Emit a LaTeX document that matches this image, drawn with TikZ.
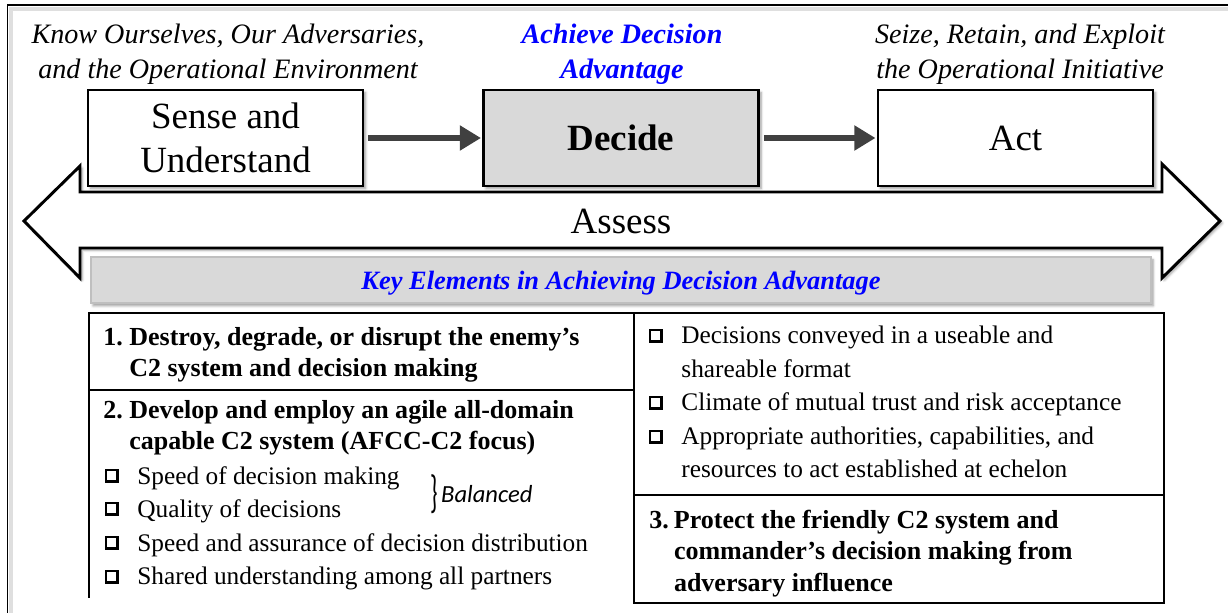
\documentclass[tikz,border=0pt]{standalone}
\usepackage{fontspec}
\usepackage{graphicx}
\setmainfont{Liberation Serif}
\newfontfamily\calfont{Carlito}
\usetikzlibrary{arrows.meta,positioning,shadows.blur}

\newcommand{\pxu}{0.025cm}
\newcommand{\chk}{\hspace*{1.23em}}
\newcommand{\hang}{\hspace*{1em}}
\newcommand{\sizedtext}[3]{\scalebox{#1}{\begin{tabular}{@{}#2@{}}#3\end{tabular}}}

\tikzset{
  stagebox/.style={draw, line width=1.6pt, fill=white, minimum width=275*\pxu,
    minimum height=96*\pxu, align=center, font=\fontsize{26.3}{31.3}\selectfont,
    blur shadow={shadow xshift=1.8pt, shadow yshift=-1.8pt, shadow blur steps=6}},
  flow/.style={line width=4.3pt, draw=black!75, -{Triangle[length=15pt, width=17pt]}},
  toptext/.style={align=center, font=\itshape\fontsize{18}{22.5}\selectfont},
  numtext/.style={anchor=north west, align=left, inner sep=0pt,
    font=\bfseries\fontsize{18.5}{22.3}\selectfont},
  listtext/.style={anchor=north west, align=left, inner sep=0pt,
    font=\fontsize{18}{23.8}\selectfont},
  tickbox/.style={draw, line width=0.9pt, fill=white, minimum size=12*\pxu, inner sep=0pt,
    path picture={\draw[line width=2.6pt] (path picture bounding box.north east)
      -- (path picture bounding box.south east) -- (path picture bounding box.south west);}},
}

\begin{document}
\begin{tikzpicture}[x=0.025cm, y=-0.025cm, line join=miter]
\useasboundingbox (0,0) rectangle (1228,612);
% frame
\draw[gray!25, line width=2.5pt] (11,640) -- (11,9) -- (1250,9);
\draw[line width=1.2pt] (7.5,640) -- (7.5,5) -- (1250,5);

% headings
\node[toptext] (hsense) at (228,54) {\sizedtext{1.1111}{c}{Know Ourselves, Our Adversaries,\\and the Operational Environment}};
\node[toptext, text=blue, font=\bfseries\itshape\fontsize{20}{25}\selectfont] (hdecide) at (622,54) {Achieve Decision\\Advantage};
\node[toptext] (hact) at (1020,54) {\sizedtext{1.1111}{c}{Seize, Retain, and Exploit\\the Operational Initiative}};

% assess arrow
\draw[line width=2.1pt, fill=white, blur shadow={shadow xshift=1.5pt, shadow yshift=-1.5pt}]
  (24,221) -- (80,166) -- (80,192) -- (1162,192) -- (1162,164) -- (1220,221)
  -- (1162,278) -- (1162,248) -- (80,248) -- (80,278) -- cycle;
\node[font=\fontsize{26.3}{31.3}\selectfont] (assess) at (621,221) {Assess};

% stages
\node[stagebox] (sense) at (225.5,138) {Sense and\\Understand};
\node[stagebox, fill=black!15, font=\bfseries\fontsize{26.3}{31.3}\selectfont] (decide) at (621,138) {Decide};
\node[stagebox] (act) at (1015.5,138) {Act};
\draw[flow, shorten <=3pt, shorten >=1pt] (sense) -- (decide);
\draw[flow, shorten <=3pt, shorten >=1pt] (decide) -- (act);

% key elements bar
\node[fill=black!15, draw=black!25, line width=1pt, minimum width=1060*\pxu, minimum height=46*\pxu,
  text depth=0pt, blur shadow={shadow xshift=1.5pt, shadow yshift=-2pt},
  text=blue, font=\bfseries\itshape\fontsize{18.8}{22}\selectfont] (key) at (621,280)
  {Key Elements in Achieving Decision Advantage};

% element boxes
\draw[line width=1.4pt] (89,313) rectangle (634,390);
\draw[line width=1.4pt] (89,390) -- (89,598);
\draw[line width=1.4pt] (634,313) rectangle (1164,603);
\draw[line width=1.4pt] (634,495) -- (1164,495);

\node[numtext] (elem1) at (103,327) {\makebox[1em][l]{1.}Destroy, degrade, or disrupt the enemy’s\\\hang C2 system and decision making};
\node[numtext] (elem2) at (103,400) {\makebox[1em][l]{2.}Develop and employ an agile all-domain\\\hang capable C2 system (AFCC-C2 focus)};
\node[listtext] (list2) at (106,466) {\chk Speed of decision making\\\chk Quality of decisions\\\chk Speed and assurance of decision distribution\\\chk Shared understanding among all partners};
\node[font=\calfont\fontsize{17}{17}\selectfont, inner sep=0pt] (brc) at (434,494) {\scalebox{1}[1.9]{\}}};
\node[right=2pt of brc, inner sep=0pt, font=\calfont\itshape\fontsize{17.5}{22}\selectfont] (bal) {Balanced};

\node[listtext] (listr) at (650,326) {\chk Decisions conveyed in a useable and\\\chk shareable format\\\chk Climate of mutual trust and risk acceptance\\\chk Appropriate authorities, capabilities, and\\\chk resources to act established at echelon};
\node[numtext] (elem3) at (649,510) {\makebox[0.95em][l]{3.}Protect the friendly C2 system and\\\hspace*{0.95em}commander’s decision making from\\\hspace*{0.95em}adversary influence};

% check boxes
\foreach \y [count=\i] in {476,509,543,577}
  \node[tickbox] (tick\i) at (112,\y) {};
\foreach \y [count=\i] in {336,403,437}
  \node[tickbox] (tickr\i) at (656,\y) {};
\end{tikzpicture}
\end{document}
